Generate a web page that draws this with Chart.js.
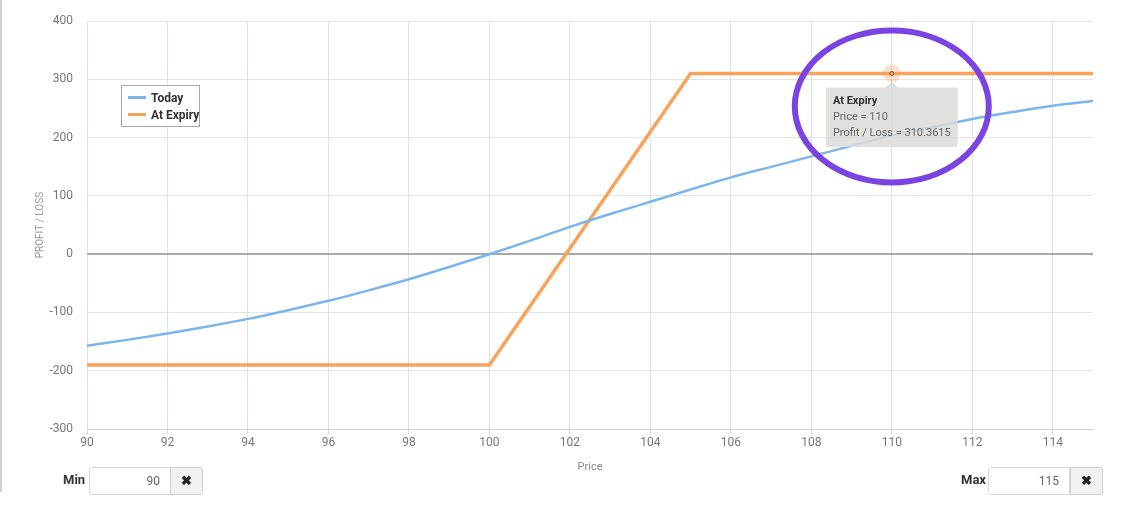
<!DOCTYPE html>
<html>
<head>
<meta charset="utf-8">
<script src="https://cdn.jsdelivr.net/npm/chart.js@4.4.1/dist/chart.umd.min.js"></script>
<style>
  body { margin: 0; background: #fff; font-family: "Roboto", sans-serif; }
  #page { position: relative; width: 1140px; height: 511px; overflow: hidden; }
  #edge { position: absolute; left: 0; top: 0; width: 2px; height: 492px; background: #cfcfcf; }
  #wrap { position: absolute; left: 0; top: 0; width: 1140px; height: 478px; }
  #legend { position: absolute; left: 121px; top: 85px; width: 77px; height: 40px; border: 1px solid #a9a9a9; background: #fff; font-size: 12px; font-weight: bold; color: #333; }
  #legend div { position: absolute; left: 6px; height: 16px; line-height: 16px; white-space: nowrap; }
  #legend span { display: inline-block; width: 18px; height: 3px; vertical-align: middle; margin-right: 5px; margin-top: -2px; }
  .lbl { position: absolute; top: 472px; font-size: 13px; font-weight: bold; color: #333; }
  .box { position: absolute; top: 467px; width: 80px; height: 26px; border: 1px solid #d8d8d8; border-radius: 3px 0 0 3px; font-size: 12px; color: #666; text-align: right; line-height: 26px; }
  .box b { font-weight: normal; margin-right: 10px; }
  .btn { position: absolute; top: 467px; width: 31px; height: 26px; border: 1px solid #cfcfcf; border-radius: 0 3px 3px 0; background: #f1f1f1; text-align: center; line-height: 26px; font-size: 13px; font-weight: bold; color: #222; }
</style>
</head>
<body>
<div id="page">
  <div id="edge"></div>
  <div id="wrap"><canvas id="chart"></canvas></div>
  <div id="legend">
    <div style="top:4px"><span style="background:#7cb5ec"></span>Today</div>
    <div style="top:21px"><span style="background:#f7a35c"></span>At Expiry</div>
  </div>
  <div class="lbl" style="left:63px">Min</div>
  <div class="box" style="left:89px"><b>90</b></div>
  <div class="btn" style="left:170px">&#10006;</div>
  <div class="lbl" style="left:961px">Max</div>
  <div class="box" style="left:988px"><b>115</b></div>
  <div class="btn" style="left:1070px">&#10006;</div>
</div>
<script>
const todayPrices = [90,91,92,93,94,95,96,97,98,99,100,101,102,103,104,105,106,107,108,109,110,111,112,113,114,115];
const todayPL = [-157,-147,-136,-124,-111,-96,-80,-62,-43,-22,0,23,47,69,90,111,132,150,168,186,204,218,232,244,255,263];
const expiryPrices = [90,100,105,110,115];
const expiryPL = [-190,-190,310.3615,310.3615,310.3615];
const hoverIndex = 3;

const fontFamily = '"Roboto", sans-serif';

const toPoints = (xs, ys) => xs.map((x, i) => ({x: x, y: ys[i]}));

const marks = {
    id: 'marks',
    afterDatasetsDraw(chart) {
        const pt = chart.getDatasetMeta(1).data[hoverIndex];
        const ctx = chart.ctx;
        ctx.save();
        ctx.fillStyle = 'rgba(247,163,92,0.3)';
        ctx.beginPath();
        ctx.arc(pt.x, pt.y, 9, 0, Math.PI * 2);
        ctx.fill();
        ctx.restore();
    },
    afterDraw(chart) {
        const pt = chart.getDatasetMeta(1).data[hoverIndex];
        const ctx = chart.ctx;
        ctx.save();
        ctx.strokeStyle = '#7b44e2';
        ctx.lineWidth = 6;
        ctx.beginPath();
        ctx.ellipse(pt.x, pt.y + 33, 97, 76, 0, 0, Math.PI * 2);
        ctx.stroke();
        ctx.restore();
    }
};

const chart = new Chart('chart', {
    type: 'line',
    data: {
        datasets: [{
            label: 'Today',
            data: toPoints(todayPrices, todayPL),
            borderColor: '#7cb5ec',
            borderWidth: 2.5,
            pointRadius: 0,
            pointHoverRadius: 0,
            cubicInterpolationMode: 'monotone',
            fill: false
        }, {
            label: 'At Expiry',
            data: toPoints(expiryPrices, expiryPL),
            borderColor: '#f7a35c',
            borderWidth: 3.5,
            pointRadius: 0,
            pointHoverRadius: 2,
            pointHoverBorderWidth: 1,
            pointHoverBorderColor: '#444',
            pointHoverBackgroundColor: '#f7a35c',
            fill: false
        }]
    },
    options: {
        responsive: true,
        maintainAspectRatio: false,
        animation: false,
        events: [],
        layout: {padding: {left: 30, right: 47, top: 14, bottom: 0}},
        scales: {
            x: {
                type: 'linear',
                min: 90,
                max: 115,
                ticks: {stepSize: 2, includeBounds: false, color: '#777', font: {family: fontFamily, size: 12}, padding: 2},
                grid: {color: '#dde3ea', tickLength: 5, tickColor: '#cbd6e4'},
                border: {display: true, color: '#c8d5e6'},
                title: {display: true, text: 'Price', color: '#888', font: {family: fontFamily, size: 11}, padding: {top: 3}},
                afterFit(scale) { scale.height = 49; }
            },
            y: {
                min: -300,
                max: 400,
                ticks: {stepSize: 100, color: '#777', font: {family: fontFamily, size: 12}, padding: 14},
                grid: {
                    drawTicks: false,
                    color: ctx => ctx.tick && ctx.tick.value === 0 ? '#a8a8a8' : '#e4e4e4',
                    lineWidth: ctx => ctx.tick && ctx.tick.value === 0 ? 2 : 1
                },
                border: {display: false},
                title: {display: true, text: 'PROFIT / LOSS', color: '#999', font: {family: fontFamily, size: 10}, padding: {bottom: 4}},
                afterFit(scale) { scale.width = 57; }
            }
        },
        plugins: {
            legend: {display: false},
            tooltip: {
                enabled: true,
                filter: item => item.datasetIndex === 1,
                backgroundColor: 'rgba(218,218,216,0.85)',
                titleColor: '#333',
                bodyColor: '#666',
                titleFont: {family: fontFamily, size: 11, weight: 'bold'},
                bodyFont: {family: fontFamily, size: 11},
                titleMarginBottom: 3,
                bodySpacing: 3,
                padding: {x: 7, y: 7},
                cornerRadius: 2,
                caretSize: 6,
                caretPadding: 8,
                displayColors: false,
                xAlign: 'center',
                yAlign: 'top',
                callbacks: {
                    title: items => items[0].dataset.label,
                    label: item => ['Price = ' + item.parsed.x, 'Profit / Loss = ' + item.parsed.y]
                }
            }
        }
    },
    plugins: [marks]
});

const pt = chart.getDatasetMeta(1).data[hoverIndex];
chart.setActiveElements([{datasetIndex: 1, index: hoverIndex}]);
chart.tooltip.setActiveElements([{datasetIndex: 1, index: hoverIndex}], {x: pt.x, y: pt.y});
chart.update();
</script>
</body>
</html>
